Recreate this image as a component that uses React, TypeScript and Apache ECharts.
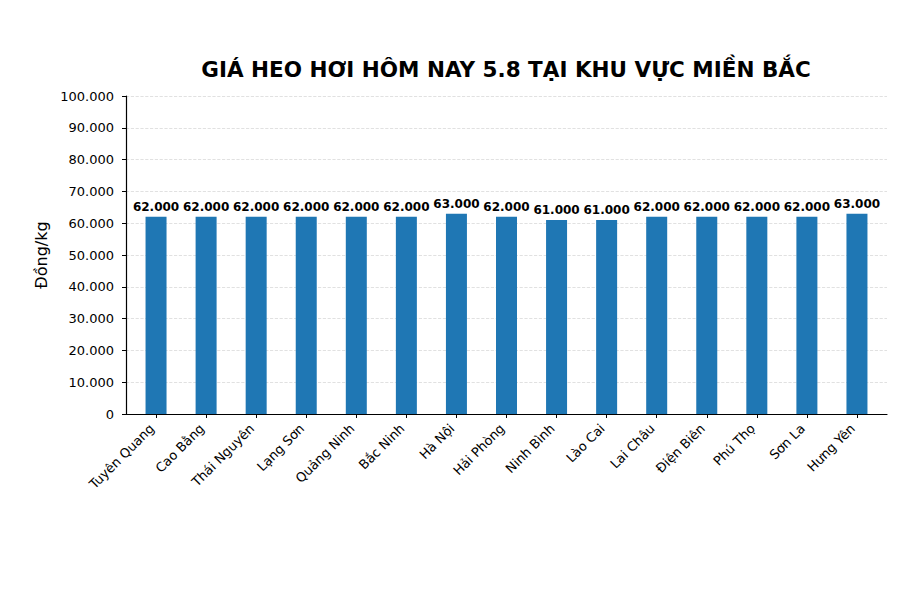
import React, { useEffect, useRef } from 'react';
import * as echarts from 'echarts';

const provinces = [
  'Tuyên Quang', 'Cao Bằng', 'Thái Nguyên', 'Lạng Sơn', 'Quảng Ninh',
  'Bắc Ninh', 'Hà Nội', 'Hải Phòng', 'Ninh Bình', 'Lào Cai',
  'Lai Châu', 'Điện Biên', 'Phú Thọ', 'Sơn La', 'Hưng Yên',
];
const prices = [
  62000, 62000, 62000, 62000, 62000,
  62000, 63000, 62000, 61000, 61000,
  62000, 62000, 62000, 62000, 63000,
];
const titleText = 'GIÁ HEO HƠI HÔM NAY 5.8 TẠI KHU VỰC MIỀN BẮC';
const yName = 'Đồng/kg';

const FONT = 'DejaVu Sans';
const fmt = (v: number) => String(Math.round(v)).replace(/\B(?=(\d{3})+(?!\d))/g, '.');

const App: React.FC = () => {
  const chartRef = useRef<HTMLDivElement>(null);

  useEffect(() => {
    if (!chartRef.current) return;
    const chart = echarts.init(chartRef.current, null, { renderer: 'svg' });
    const idx = provinces.map((_, i) => i);

    const option: echarts.EChartsOption = {
      animation: false,
      textStyle: { fontFamily: FONT },
      title: {
        text: titleText,
        left: 501,
        textAlign: 'center',
        top: 53,
        textStyle: { fontFamily: FONT, fontSize: 21.5, fontWeight: 'bold', color: '#000' },
      },
      grid: { left: 126, right: 13, top: 96, bottom: 186, outerBoundsMode: 'none' } as any,
      xAxis: {
        type: 'value',
        min: -0.6,
        max: 14.6,
        splitLine: { show: false },
        axisLine: { show: true, onZero: false, lineStyle: { color: '#000', width: 1.2 } },
        axisTick: { show: true, customValues: idx, length: 4, lineStyle: { color: '#000' } },
        axisLabel: {
          customValues: idx,
          rotate: 45,
          margin: 8,
          padding: [0, 6, 0, 0],
          fontSize: 13,
          color: '#000',
          fontFamily: FONT,
          formatter: (v: number) => provinces[Math.round(v)] ?? '',
        },
      } as any,
      yAxis: {
        type: 'value',
        min: 0,
        max: 100000,
        interval: 10000,
        name: yName,
        nameLocation: 'middle',
        nameGap: 76,
        nameTextStyle: { fontSize: 16, color: '#000', fontFamily: FONT },
        axisLine: { show: true, onZero: false, lineStyle: { color: '#000', width: 1.2 } },
        axisTick: { show: true, length: 4, lineStyle: { color: '#000' } },
        axisLabel: { fontSize: 13, color: '#000', margin: 12, fontFamily: FONT, formatter: (v: number) => fmt(v) },
        splitLine: { show: true, lineStyle: { color: '#d9d9d9', type: 'dashed', width: 0.8 } },
      } as any,
      series: [
        {
          type: 'bar',
          data: prices.map((p, i) => [i, p]),
          barWidth: 21,
          itemStyle: { color: '#1f77b4' },
          label: {
            show: true,
            position: 'top',
            distance: 4,
            fontSize: 12,
            fontWeight: 'bold',
            color: '#000',
            fontFamily: FONT,
            formatter: (p: any) => fmt(p.value[1]),
          },
        },
      ],
    };

    chart.setOption(option);
    return () => chart.dispose();
  }, []);

  return <div ref={chartRef} style={{ position: 'absolute', left: 0, top: 0, width: 900, height: 600 }} />;
};

export default App;
